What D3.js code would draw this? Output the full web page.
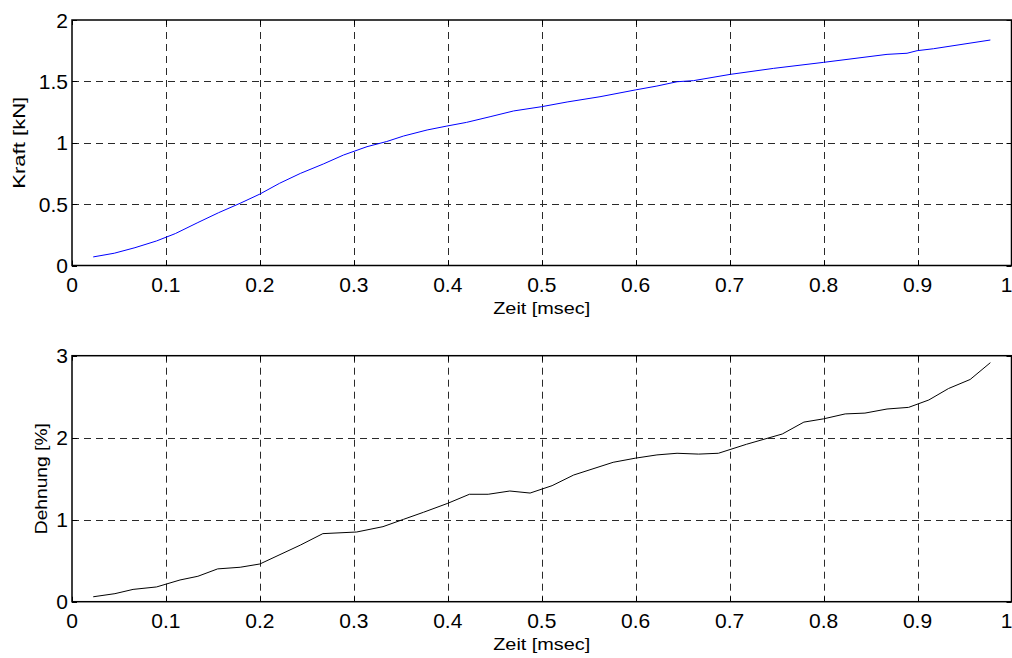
<!DOCTYPE html>
<html>
<head>
<meta charset="utf-8">
<script src="https://cdn.jsdelivr.net/npm/d3@7"></script>
<style>
  html, body { margin: 0; padding: 0; background: #fff; }
  svg { display: block; font-family: "Liberation Sans", Arial, sans-serif; }
</style>
</head>
<body>
<svg id="chart" width="1012" height="658"></svg>
<script>
// ---- Data ----
const xTicks = [0, 0.1, 0.2, 0.3, 0.4, 0.5, 0.6, 0.7, 0.8, 0.9, 1];
const xTickLabels = ["0", "0.1", "0.2", "0.3", "0.4", "0.5", "0.6", "0.7", "0.8", "0.9", "1"];
const kraftTicks = [0, 0.5, 1, 1.5, 2];
const kraftTickLabels = ["0", "0.5", "1", "1.5", "2"];
const dehnungTicks = [0, 1, 2, 3];
const dehnungTickLabels = ["0", "1", "2", "3"];

const kraftTime = [0.0226, 0.045, 0.067, 0.09, 0.11, 0.134, 0.156, 0.179, 0.2, 0.221, 0.243, 0.2675, 0.289, 0.314, 0.335, 0.353, 0.378, 0.399, 0.42, 0.445, 0.47, 0.5, 0.527, 0.562, 0.5995, 0.6226, 0.644, 0.6616, 0.7006, 0.7468, 0.8, 0.8675, 0.8888, 0.8995, 0.917, 0.9775];
const kraftValue = [0.07, 0.10, 0.145, 0.20, 0.26, 0.35, 0.43, 0.507, 0.582, 0.67, 0.75, 0.827, 0.90, 0.968, 1.01, 1.055, 1.104, 1.136, 1.166, 1.212, 1.259, 1.294, 1.332, 1.375, 1.43, 1.462, 1.497, 1.506, 1.557, 1.606, 1.655, 1.72, 1.729, 1.75, 1.766, 1.837];

const dehnungTime = [0.0226, 0.0457, 0.065, 0.09, 0.115, 0.134, 0.155, 0.179, 0.2, 0.243, 0.267, 0.303, 0.331, 0.353, 0.374, 0.4, 0.423, 0.443, 0.466, 0.4876, 0.511, 0.534, 0.576, 0.5995, 0.6226, 0.644, 0.667, 0.688, 0.718, 0.756, 0.779, 0.8, 0.823, 0.844, 0.8675, 0.8905, 0.912, 0.933, 0.956, 0.9775];
const dehnungValue = [0.06, 0.098, 0.15, 0.18, 0.265, 0.31, 0.40, 0.42, 0.46, 0.69, 0.83, 0.85, 0.915, 1.005, 1.09, 1.2, 1.31, 1.31, 1.35, 1.325, 1.415, 1.545, 1.70, 1.75, 1.79, 1.81, 1.80, 1.81, 1.92, 2.045, 2.19, 2.23, 2.29, 2.30, 2.35, 2.37, 2.46, 2.60, 2.71, 2.915];

const xLabel = "Zeit [msec]";
const kraftLabel = "Kraft [kN]";
const dehnungLabel = "Dehnung [%]";

// ---- Drawing ----
const svg = d3.select("#chart");
const left = 72, right = 1011.5;

function panel(top, bottom, yDomain, yTicks, yTickLabels, times, values, color, yLabel, yLabelX, yLabelLen) {
  const x = d3.scaleLinear().domain([0, 1]).range([left, right]);
  const y = d3.scaleLinear().domain(yDomain).range([bottom, top]);
  const g = svg.append("g");

  // grid
  g.selectAll(".vg").data(xTicks.slice(1, -1)).join("line")
    .attr("x1", d => Math.round(x(d)) + 0.5).attr("x2", d => Math.round(x(d)) + 0.5)
    .attr("y1", top).attr("y2", bottom)
    .attr("stroke", "#2a2a2a").attr("stroke-width", 1).attr("stroke-dasharray", "7,5");
  g.selectAll(".hg").data(yTicks.slice(1, -1)).join("line")
    .attr("x1", left).attr("x2", right)
    .attr("y1", d => Math.round(y(d)) + 0.5).attr("y2", d => Math.round(y(d)) + 0.5)
    .attr("stroke", "#2a2a2a").attr("stroke-width", 1).attr("stroke-dasharray", "7,5");

  // inward ticks
  g.selectAll(".xtb").data(xTicks).join("line")
    .attr("x1", d => Math.round(x(d)) + 0.5).attr("x2", d => Math.round(x(d)) + 0.5)
    .attr("y1", bottom).attr("y2", bottom - 5).attr("stroke", "#000");
  g.selectAll(".xtt").data(xTicks).join("line")
    .attr("x1", d => Math.round(x(d)) + 0.5).attr("x2", d => Math.round(x(d)) + 0.5)
    .attr("y1", top).attr("y2", top + 5).attr("stroke", "#000");
  g.selectAll(".ytl").data(yTicks).join("line")
    .attr("x1", left).attr("x2", left + 5)
    .attr("y1", d => Math.round(y(d)) + 0.5).attr("y2", d => Math.round(y(d)) + 0.5).attr("stroke", "#000");
  g.selectAll(".ytr").data(yTicks).join("line")
    .attr("x1", right).attr("x2", right - 5)
    .attr("y1", d => Math.round(y(d)) + 0.5).attr("y2", d => Math.round(y(d)) + 0.5).attr("stroke", "#000");

  // box
  g.append("rect").attr("x", left).attr("y", top)
    .attr("width", right - left).attr("height", bottom - top)
    .attr("fill", "none").attr("stroke", "#000").attr("stroke-width", 1.5);

  // data line
  const pts = times.map((t, i) => [t, values[i]]);
  g.append("path").datum(pts)
    .attr("fill", "none").attr("stroke", color).attr("stroke-width", 1)
    .attr("d", d3.line().x(d => x(d[0])).y(d => y(d[1])));

  // tick labels
  g.selectAll(".xl").data(xTicks).join("text")
    .attr("x", d => d === 1 ? right - 5 : x(d)).attr("y", bottom + 26)
    .attr("text-anchor", "middle").attr("font-size", 21).attr("fill", "#000")
    .text((d, i) => xTickLabels[i]);
  g.selectAll(".yl").data(yTicks).join("text")
    .attr("x", left - 4).attr("y", d => y(d)).attr("dy", "0.36em")
    .attr("text-anchor", "end").attr("font-size", 21).attr("fill", "#000")
    .text((d, i) => yTickLabels[i]);

  // axis labels
  g.append("text").attr("x", (left + right) / 2).attr("y", bottom + 48)
    .attr("text-anchor", "middle").attr("font-size", 17).attr("fill", "#000")
    .attr("textLength", 97).attr("lengthAdjust", "spacingAndGlyphs")
    .text(xLabel);
  g.append("text")
    .attr("transform", `translate(${yLabelX},${(top + bottom) / 2}) rotate(-90)`)
    .attr("text-anchor", "middle").attr("font-size", 17).attr("fill", "#000")
    .attr("textLength", yLabelLen).attr("lengthAdjust", "spacingAndGlyphs")
    .text(yLabel);
}

panel(20, 265.5, [0, 2], kraftTicks, kraftTickLabels, kraftTime, kraftValue, "#0000ff", kraftLabel, 25, 92);
panel(355.7, 601.7, [0, 3], dehnungTicks, dehnungTickLabels, dehnungTime, dehnungValue, "#000000", dehnungLabel, 47, 111);
</script>
</body>
</html>
